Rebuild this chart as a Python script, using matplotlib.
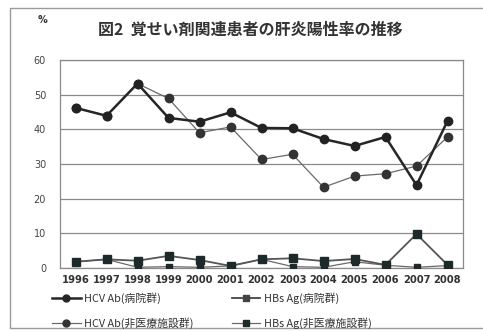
import matplotlib
matplotlib.use('Agg')
import matplotlib.pyplot as plt
from matplotlib.patches import Rectangle
from matplotlib.lines import Line2D

plt.rcParams['font.family'] = ['Noto Sans CJK JP', 'DejaVu Sans']

# データ (%)
years = ['1996', '1997', '1998', '1999', '2000', '2001', '2002',
         '2003', '2004', '2005', '2006', '2007', '2008']
hcv_hosp = [46.2, 43.9, 53.2, 43.3, 42.2, 44.9, 40.4, 40.3, 37.2, 35.2, 37.8, 23.9, 42.4]
hcv_nonmed = [46.2, 43.9, 53.2, 48.9, 39.0, 40.7, 31.3, 32.8, 23.3, 26.5, 27.2, 29.4, 37.8]
hbs_hosp = [1.8, 2.5, 2.1, 3.5, 2.3, 0.6, 2.5, 2.8, 2.0, 2.6, 0.9, 9.8, 0.9]
hbs_nonmed = [1.8, 2.5, 0.2, 0.4, 0.2, 0.6, 2.5, 0.4, 0.2, 1.8, 0.8, 0.2, 0.7]
labels = ['HCV Ab(病院群)', 'HCV Ab(非医療施設群)', 'HBs Ag(病院群)', 'HBs Ag(非医療施設群)']

x = list(range(len(years)))

fig = plt.figure(figsize=(4.83, 3.31), dpi=100)
fig.patch.set_facecolor('white')
# 外枠
fig.patches.append(Rectangle((10 / 483, 3 / 331), 480 / 483, 320 / 331, transform=fig.transFigure,
                             fill=False, edgecolor='#9a9a9a', linewidth=1.0))

ax = fig.add_axes([60 / 483, 1 - 268 / 331, 403 / 483, 208 / 331])

ax.plot(x, hcv_nonmed, color='#6a6a6a', linewidth=0.9, marker='o', markersize=6,
        markerfacecolor='#333333', markeredgecolor='#333333', zorder=3)
ax.plot(x, hcv_hosp, color='#262626', linewidth=1.8, marker='o', markersize=6,
        markerfacecolor='#222222', markeredgecolor='#222222', zorder=4)
ax.plot(x, hbs_nonmed, color='#6a6a6a', linewidth=0.9, marker='s', markersize=5,
        markerfacecolor='#1e2a2a', markeredgecolor='#1e2a2a', zorder=3)
ax.plot(x, hbs_hosp, color='#555555', linewidth=1.3, marker='s', markersize=5.5,
        markerfacecolor='#1e2a2a', markeredgecolor='#1e2a2a', zorder=4)

ax.set_xlim(-0.5, 12.5)
ax.set_ylim(0, 60)
ax.set_yticks(range(0, 61, 10))
ax.set_xticks(x)
ax.set_xticklabels(years, fontsize=7.2, fontweight='bold', color='#333333', family='DejaVu Sans')
ax.tick_params(axis='y', labelsize=7, colors='#444444', length=0, pad=10)
ax.tick_params(axis='x', length=0, pad=5)
for lbl in ax.get_yticklabels():
    lbl.set_family('DejaVu Sans')
ax.grid(axis='y', color='#8a8a8a', linewidth=0.9)
ax.set_axisbelow(True)
for s in ax.spines.values():
    s.set_color('#8a8a8a')
    s.set_linewidth(0.9)

fig.text(42 / 483, 1 - 20 / 331, '%', fontsize=7, color='#333333', fontweight='bold',
         ha='center', va='center', family='DejaVu Sans')
fig.text(250 / 483, 1 - 30 / 331, '図2  覚せい剤関連患者の肝炎陽性率の推移', fontsize=11.5,
         fontweight='bold', color='#333333', ha='center', va='center')

# 凡例 (列優先で並ぶので順序を合わせる)
handles = [
    Line2D([], [], color='#262626', linewidth=1.8, marker='o', markersize=5),
    Line2D([], [], color='#6a6a6a', linewidth=0.9, marker='o', markersize=5, markerfacecolor='#333333', markeredgecolor='#333333'),
    Line2D([], [], color='#444444', linewidth=1.3, marker='s', markersize=5),
    Line2D([], [], color='#6a6a6a', linewidth=0.9, marker='s', markersize=5, markerfacecolor='#1e2a2a', markeredgecolor='#1e2a2a'),
]
leg = fig.legend(handles, labels, ncol=2, loc='upper left', bbox_to_anchor=(48 / 483, 1 - 288 / 331),
                 frameon=False, fontsize=7.8, handlelength=2.6, handletextpad=0.3,
                 columnspacing=3.6, labelspacing=1.2, borderaxespad=0)
for t in leg.get_texts():
    t.set_color('#333333')

fig.savefig('out.png', dpi=100, facecolor='white')
